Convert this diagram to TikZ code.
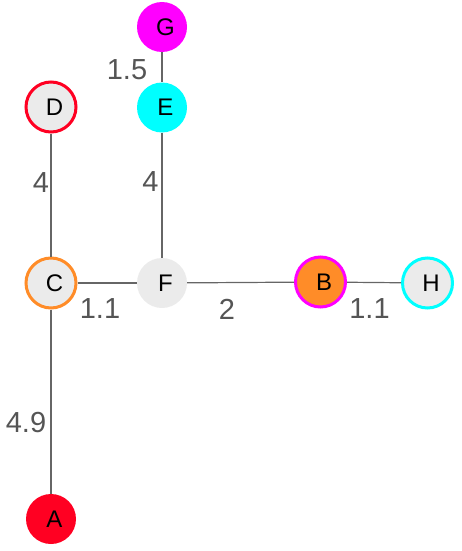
\documentclass[tikz,border=0pt]{standalone}
\usepackage{fontspec}
\setmainfont{Liberation Sans}
\usepackage{xcolor}
\definecolor{nodegray}{HTML}{EBEBEB}
\definecolor{edgegray}{HTML}{666666}
\definecolor{labelgray}{HTML}{555555}
\definecolor{myred}{HTML}{FF0022}
\definecolor{myorange}{HTML}{FF8C28}
\definecolor{mymagenta}{HTML}{FF00FF}
\definecolor{mycyan}{HTML}{00FFFF}

\begin{document}
\begin{tikzpicture}[x=1pt, y=-1pt,
    vertex/.style={circle, inner sep=0pt, minimum size=50pt, fill=nodegray,
        font=\fontsize{24}{24}\selectfont, execute at begin node=\hspace*{7pt}},
    ring/.style={vertex, draw=#1, line width=3pt},
    edge/.style={draw=edgegray, line width=1.2pt},
    weight/.style={text=labelgray, font=\fontsize{29}{29}\selectfont}]
        \useasboundingbox (0,0) rectangle (462,551);
        % vertices
        \node[vertex, fill=mymagenta] (G) at (162,27) {G};
        \node[vertex, fill=mycyan] (E) at (162,107.5) {E};
        \node[ring=myred] (D) at (51,107) {D};
        \node[ring=myorange] (C) at (51,283) {C};
        \node[vertex] (F) at (162,283) {F};
        \node[ring=mymagenta, fill=myorange] (B) at (320.5,282) {B};
        \node[ring=mycyan] (H) at (427.5,283) {H};
        \node[vertex, fill=myred] (A) at (51,519) {A};
        % edges
        \draw[edge] (G) -- (E);
        \draw[edge] (E) -- (F);
        \draw[edge] (D) -- (C);
        \draw[edge] (C) -- (F);
        \draw[edge] (C) -- (A);
        \draw[edge] (F) -- (B);
        \draw[edge] (B) -- (H);
        % weights
        \node[weight] (wGE) at (127,70) {1.5};
        \node[weight] (wDC) at (41,183) {4};
        \node[weight] (wEF) at (150.5,182) {4};
        \node[weight] (wCF) at (100,309) {1.1};
        \node[weight] (wFB) at (227,309) {2};
        \node[weight] (wBH) at (369.5,309) {1.1};
        \node[weight] (wCA) at (26,422.5) {4.9};
    \end{tikzpicture}
\end{document}
